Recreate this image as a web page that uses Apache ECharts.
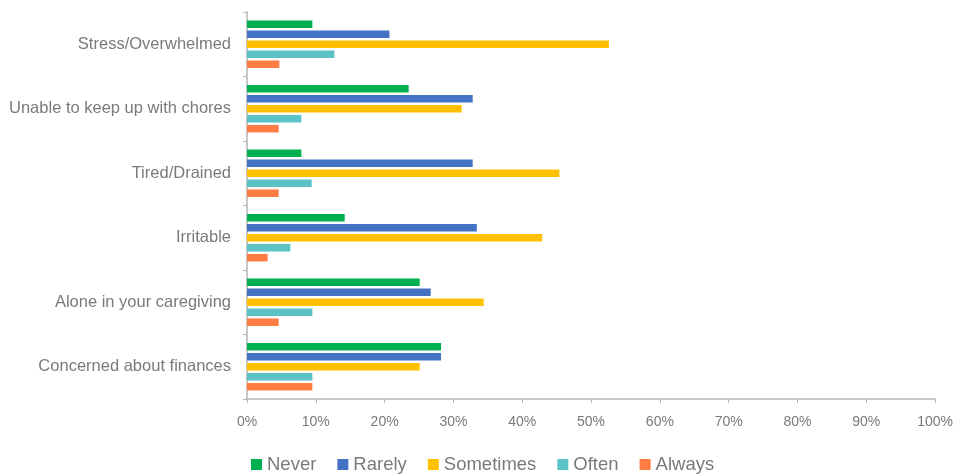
<!DOCTYPE html>
<html>
<head>
<meta charset="utf-8">
<script src="https://cdn.jsdelivr.net/npm/echarts@6/dist/echarts.min.js"></script>
<style>
html,body{margin:0;padding:0;background:#fff;}
#chart{width:956px;height:474px;}
</style>
</head>
<body>
<div id="chart"></div>
<script>
const categories = ["Stress/Overwhelmed", "Unable to keep up with chores", "Tired/Drained", "Irritable", "Alone in your caregiving", "Concerned about finances"];
const seriesNames = ["Never", "Rarely", "Sometimes", "Often", "Always"];
const never = [9.5, 23.5, 7.9, 14.2, 25.1, 28.2];
const rarely = [20.7, 32.8, 32.8, 33.4, 26.7, 28.2];
const sometimes = [52.6, 31.2, 45.4, 42.9, 34.4, 25.1];
const often = [12.7, 7.9, 9.4, 6.3, 9.5, 9.5];
const always = [4.7, 4.6, 4.6, 3.0, 4.6, 9.5];
const xTicks = [0, 10, 20, 30, 40, 50, 60, 70, 80, 90, 100];
const colors = ["#00B050", "#4472C4", "#FFC000", "#5BC2C6", "#FF7C43"];

const values = [never, rarely, sometimes, often, always];
const chart = echarts.init(document.getElementById('chart'));
const font = "'Liberation Sans', Arial, sans-serif";
chart.setOption({
  animation: false,
  textStyle: { fontFamily: font },
  grid: { left: 247, right: 19, top: 12, bottom: 75, containLabel: false },
  legend: {
    data: seriesNames,
    left: 246, top: 450,
    itemWidth: 11, itemHeight: 11, itemGap: 21,
    icon: 'rect',
    textStyle: { fontFamily: font, fontSize: 18.5, color: '#7a7a7a' }
  },
  xAxis: {
    type: 'value',
    min: xTicks[0], max: xTicks[xTicks.length - 1], interval: 10,
    splitLine: { show: false },
    axisLine: { show: true, lineStyle: { color: '#b5b5b5', width: 1.5 } },
    axisTick: { show: true, length: 4, lineStyle: { color: '#b5b5b5' } },
    axisLabel: { formatter: v => v + '%', fontSize: 14, color: '#7a7a7a', margin: 16 }
  },
  yAxis: {
    type: 'category',
    data: categories,
    inverse: true,
    axisLine: { show: true, lineStyle: { color: '#b5b5b5', width: 1.5 } },
    axisTick: { show: true, length: 4, lineStyle: { color: '#b5b5b5' } },
    axisLabel: { fontSize: 16.5, color: '#7a7a7a', margin: 16 }
  },
  series: seriesNames.map((n, i) => ({
    name: n,
    type: 'bar',
    data: values[i],
    barWidth: 7.5,
    barGap: '33%',
    itemStyle: { color: colors[i] }
  }))
});
</script>
</body>
</html>
